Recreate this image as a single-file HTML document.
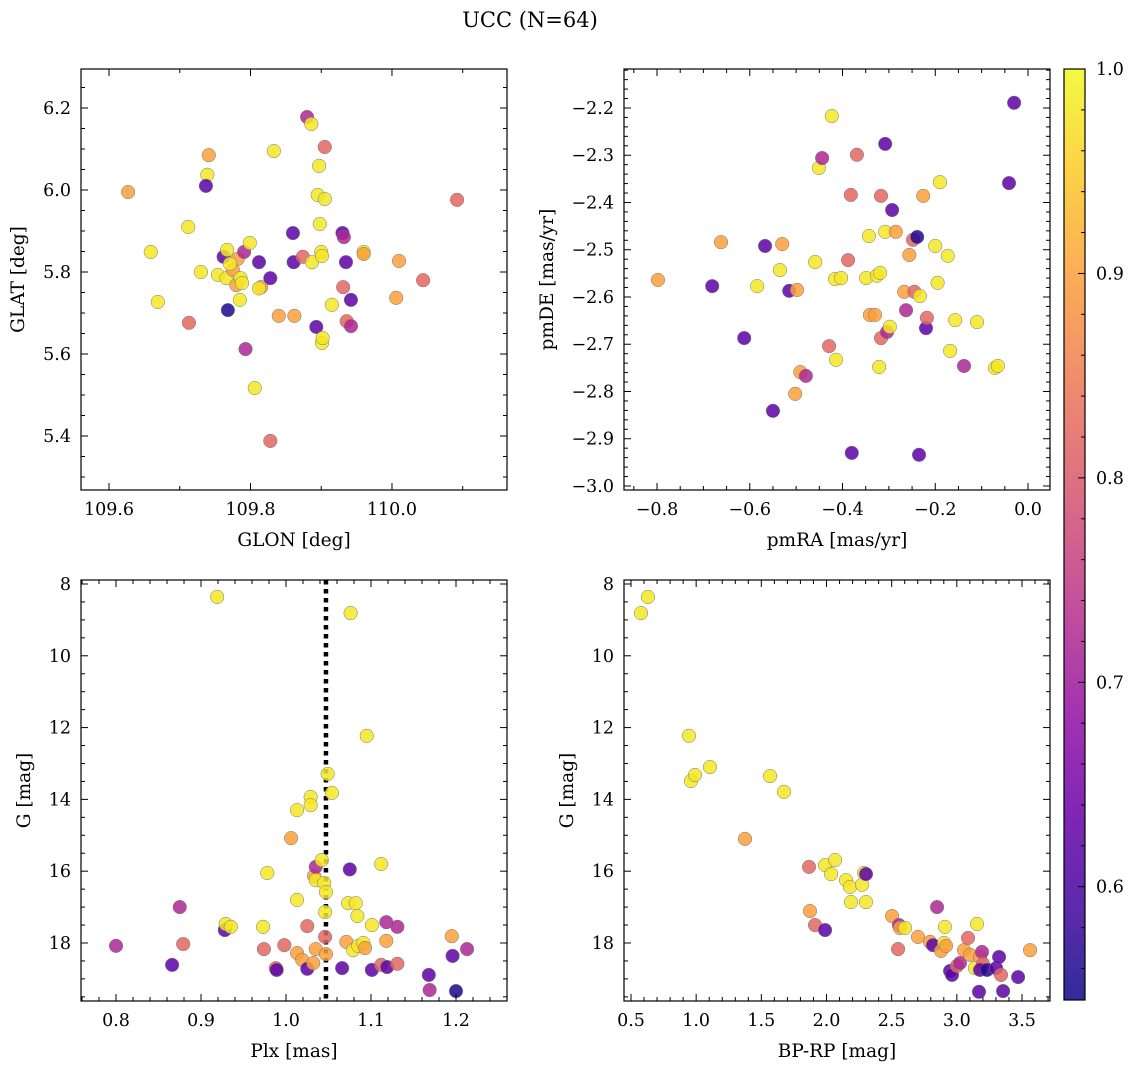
<!DOCTYPE html>
<html><head><meta charset="utf-8"><style>
body{margin:0;background:#fff;}
svg{display:block;font-family:"DejaVu Serif","Liberation Serif",serif;}
</style></head><body>
<svg id="fig" width="1136" height="1068" viewBox="0 0 1136 1068">
<defs><linearGradient id="plasma" x1="0" y1="1" x2="0" y2="0">
<stop offset="0" stop-color="#0d0887"/><stop offset="0.1" stop-color="#41049d"/><stop offset="0.2" stop-color="#6a00a8"/><stop offset="0.3" stop-color="#8f0da4"/><stop offset="0.4" stop-color="#b12a90"/><stop offset="0.5" stop-color="#cc4778"/><stop offset="0.6" stop-color="#e16462"/><stop offset="0.7" stop-color="#f2844b"/><stop offset="0.8" stop-color="#fca636"/><stop offset="0.9" stop-color="#fcce25"/><stop offset="1" stop-color="#f0f921"/>
</linearGradient></defs>
<text x="530" y="27" text-anchor="middle" font-size="21">UCC (N=64)</text>
</svg>
<script>
// Panel 1: GLON vs GLAT
const p1_glon=[109.627,109.659,109.669,109.712,109.713,109.730,109.741,109.739,109.737,109.754,109.762,109.767,109.768,109.766,109.775,109.780,109.782,109.785,109.786,109.788,109.791,109.799,109.793,109.806,109.812,109.815,109.828,109.828,109.833,109.840,109.860,109.861,109.862,109.874,109.880,109.886,109.887,109.893,109.897,109.895,109.898,109.900,109.901,109.901,109.902,109.905,109.905,109.915,109.930,109.932,109.931,109.935,109.936,109.942,109.942,109.960,109.960,110.010,110.006,110.044,110.092,109.771,109.812];
const p1_glat=[5.995,5.849,5.727,5.910,5.676,5.800,6.085,6.037,6.010,5.793,5.837,5.854,5.707,5.785,5.805,5.768,5.832,5.732,5.785,5.773,5.849,5.871,5.612,5.517,5.824,5.763,5.785,5.388,6.095,5.693,5.895,5.824,5.693,5.837,6.178,6.161,5.824,5.666,6.059,5.988,5.917,5.849,5.839,5.627,5.639,6.105,5.978,5.720,5.895,5.885,5.763,5.824,5.680,5.732,5.668,5.849,5.844,5.827,5.737,5.780,5.976,5.820,5.760];
const p1_prob=[0.9,0.98,0.98,0.98,0.82,0.98,0.9,0.98,0.62,0.98,0.62,0.98,0.56,0.98,0.9,0.9,0.9,0.98,0.98,0.98,0.72,0.98,0.72,0.98,0.62,0.9,0.62,0.82,0.98,0.9,0.62,0.62,0.9,0.82,0.72,0.98,0.98,0.62,0.98,0.98,0.98,0.98,0.98,0.98,0.98,0.82,0.98,0.98,0.62,0.72,0.82,0.62,0.82,0.62,0.72,0.98,0.9,0.9,0.9,0.82,0.82,0.98,0.98];
// Panel 2: pmRA vs pmDE
const p2_pmra=[-0.798,-0.681,-0.662,-0.612,-0.584,-0.567,-0.550,-0.535,-0.530,-0.515,-0.502,-0.498,-0.491,-0.479,-0.459,-0.451,-0.444,-0.429,-0.423,-0.416,-0.414,-0.403,-0.388,-0.382,-0.380,-0.369,-0.349,-0.343,-0.341,-0.330,-0.326,-0.321,-0.319,-0.317,-0.317,-0.308,-0.308,-0.304,-0.298,-0.293,-0.285,-0.267,-0.263,-0.256,-0.248,-0.245,-0.239,-0.233,-0.235,-0.226,-0.220,-0.218,-0.200,-0.195,-0.190,-0.173,-0.168,-0.157,-0.138,-0.110,-0.071,-0.065,-0.041,-0.030];
const p2_pmde=[-2.564,-2.577,-2.484,-2.687,-2.577,-2.492,-2.841,-2.543,-2.488,-2.587,-2.805,-2.585,-2.759,-2.767,-2.526,-2.327,-2.306,-2.704,-2.217,-2.562,-2.733,-2.560,-2.522,-2.384,-2.930,-2.299,-2.560,-2.471,-2.638,-2.638,-2.555,-2.748,-2.549,-2.386,-2.687,-2.462,-2.276,-2.674,-2.663,-2.416,-2.462,-2.589,-2.628,-2.511,-2.479,-2.589,-2.473,-2.598,-2.934,-2.386,-2.666,-2.644,-2.492,-2.570,-2.357,-2.513,-2.714,-2.649,-2.746,-2.653,-2.750,-2.746,-2.359,-2.189];
const p2_prob=[0.9,0.62,0.9,0.62,0.98,0.62,0.62,0.98,0.9,0.62,0.9,0.9,0.9,0.72,0.98,0.98,0.72,0.82,0.98,0.98,0.98,0.98,0.82,0.82,0.62,0.82,0.98,0.98,0.9,0.9,0.98,0.98,0.98,0.82,0.82,0.98,0.62,0.72,0.98,0.62,0.9,0.9,0.72,0.9,0.82,0.82,0.56,0.98,0.62,0.9,0.62,0.82,0.98,0.98,0.98,0.98,0.98,0.98,0.72,0.98,0.98,0.98,0.62,0.62];
// Panel 3: Plx vs G
const p3_plx=[0.800,0.866,0.875,0.879,0.919,0.928,0.929,0.935,0.973,0.974,0.978,0.988,0.989,0.998,1.006,1.013,1.013,1.013,1.019,1.025,1.025,1.029,1.029,1.032,1.033,1.035,1.035,1.035,1.042,1.045,1.046,1.046,1.047,1.047,1.049,1.054,1.066,1.071,1.073,1.076,1.075,1.079,1.082,1.084,1.085,1.091,1.093,1.095,1.101,1.101,1.112,1.112,1.118,1.118,1.119,1.131,1.131,1.168,1.169,1.195,1.196,1.200,1.213];
const p3_g=[18.08,18.61,17.00,18.03,8.36,17.64,17.47,17.55,17.55,18.17,16.05,18.70,18.75,18.06,15.08,14.30,18.28,16.80,18.47,18.72,17.53,13.93,14.16,18.56,16.13,15.88,16.25,18.17,15.69,16.33,17.83,17.14,18.31,16.58,13.29,13.82,18.70,17.97,16.89,8.81,15.95,18.20,16.89,17.25,18.08,18.00,18.14,12.23,17.50,18.75,18.61,15.80,17.94,17.42,18.67,17.55,18.58,18.89,19.31,17.81,18.36,19.34,18.17];
const p3_prob=[0.72,0.62,0.72,0.82,0.98,0.62,0.98,0.98,0.98,0.82,0.98,0.82,0.62,0.82,0.9,0.98,0.9,0.98,0.9,0.62,0.82,0.98,0.98,0.9,0.9,0.72,0.98,0.9,0.98,0.98,0.82,0.98,0.9,0.98,0.98,0.98,0.62,0.9,0.98,0.98,0.62,0.98,0.98,0.98,0.98,0.98,0.9,0.98,0.98,0.62,0.82,0.98,0.9,0.72,0.62,0.72,0.82,0.62,0.72,0.9,0.62,0.56,0.72];
// Panel 4: BP-RP vs G
const p4_bprp=[0.577,0.630,0.945,0.960,0.991,1.106,1.375,1.567,1.674,1.866,1.873,1.912,1.989,1.989,2.035,2.066,2.150,2.180,2.188,2.273,2.288,2.303,2.303,2.503,2.556,2.549,2.564,2.603,2.702,2.794,2.817,2.848,2.879,2.902,2.909,2.917,2.948,2.963,3.001,3.024,3.055,3.086,3.101,3.139,3.155,3.170,3.178,3.193,3.201,3.178,3.232,3.301,3.324,3.339,3.355,3.470,3.562];
const p4_g=[8.81,8.36,12.23,13.49,13.32,13.10,15.10,13.35,13.79,15.88,17.11,17.50,17.64,15.83,16.08,15.69,16.25,16.44,16.86,16.38,16.05,16.08,16.86,17.25,17.50,18.17,17.58,17.58,17.83,17.97,18.06,17.00,18.22,18.00,17.55,18.08,18.78,18.89,18.64,18.56,18.20,17.86,18.33,18.70,17.47,19.36,18.39,18.25,18.58,18.75,18.75,18.70,18.39,18.89,19.34,18.95,18.20];
const p4_prob=[0.98,0.98,0.98,0.98,0.98,0.98,0.9,0.98,0.98,0.82,0.9,0.82,0.62,0.98,0.98,0.98,0.98,0.98,0.98,0.98,0.98,0.62,0.98,0.9,0.72,0.82,0.9,0.98,0.9,0.9,0.62,0.72,0.9,0.98,0.98,0.9,0.62,0.62,0.82,0.72,0.9,0.82,0.9,0.98,0.98,0.62,0.9,0.72,0.82,0.62,0.56,0.62,0.62,0.82,0.62,0.62,0.9];
const cbTicks=[0.6,0.7,0.8,0.9,1.0];

const NS="http://www.w3.org/2000/svg";
const svg=document.getElementById('fig');
const VMIN=0.5446,VMAX=1.0;
const stops=["#0d0887","#41049d","#6a00a8","#8f0da4","#b12a90","#cc4778","#e16462","#f2844b","#fca636","#fcce25","#f0f921"];
function hex(h){return [1,3,5].map(i=>parseInt(h.substr(i,2),16));}
function plasma(v){let t=Math.max(0,Math.min(1,(v-VMIN)/(VMAX-VMIN)))*10;let i=Math.min(9,Math.floor(t)),f=t-i;const a=hex(stops[i]),b=hex(stops[i+1]);return 'rgb('+a.map((c,k)=>Math.round(c+(b[k]-c)*f)).join(',')+')';}
function mk(tag,attrs,parent){const e=document.createElementNS(NS,tag);for(const k in attrs)e.setAttribute(k,attrs[k]);(parent||svg).appendChild(e);return e;}
function fmt(v,d){let s=v.toFixed(d);if(s.startsWith('-'))s='\u2212'+s.slice(1);if(s==='\u22120.0')s='0.0';return s;}
const TF=17.5, LF=18.5;
function panel(o){
  const g=mk('g',{});
  
  
  const sx=v=>o.x0+(v-o.xmin)/(o.xmax-o.xmin)*(o.x1-o.x0);
  const sy=o.yinv?(v=>o.y0+(v-o.ymin)/(o.ymax-o.ymin)*(o.y1-o.y0)):(v=>o.y1-(v-o.ymin)/(o.ymax-o.ymin)*(o.y1-o.y0));
  if(o.vline!==undefined){const l=mk('line',{x1:sx(o.vline),x2:sx(o.vline),y1:o.y0,y2:o.y1,stroke:'#000','stroke-width':4.5,'stroke-dasharray':'4.5 4.5'},g);
    
    }
  for(let i=0;i<o.xs.length;i++){
    const c=mk('circle',{cx:sx(o.xs[i]),cy:sy(o.ys[i]),r:6.8,fill:plasma(o.cs[i]),'fill-opacity':0.85,stroke:'#777','stroke-width':0.5},g);
    
    
  }
  const fr=mk('rect',{x:o.x0,y:o.y0,width:o.x1-o.x0,height:o.y1-o.y0,fill:'none',stroke:'#000','stroke-width':1.2},g);
  
  
  const eps=1e-9;
  for(let v=Math.ceil(o.xmin/o.xminor-eps)*o.xminor;v<=o.xmax+eps;v+=o.xminor){const p=sx(v);
    const isMaj=Math.abs(v/o.xmajor-Math.round(v/o.xmajor))<1e-6;const L=isMaj?7:4;
    mk('line',{x1:p,x2:p,y1:o.y1,y2:o.y1-L,stroke:'#000','stroke-width':1},g);
    mk('line',{x1:p,x2:p,y1:o.y0,y2:o.y0+L,stroke:'#000','stroke-width':1},g);
    if(isMaj){const t=mk('text',{x:p,y:o.y1+25,'text-anchor':'middle','font-size':TF},g);t.textContent=fmt(v,o.xd);
      
      }
  }
  for(let v=Math.ceil(o.ymin/o.yminor-eps)*o.yminor;v<=o.ymax+eps;v+=o.yminor){const p=sy(v);
    const isMaj=Math.abs(v/o.ymajor-Math.round(v/o.ymajor))<1e-6;const L=isMaj?7:4;
    mk('line',{x1:o.x0,x2:o.x0+L,y1:p,y2:p,stroke:'#000','stroke-width':1},g);
    mk('line',{x1:o.x1,x2:o.x1-L,y1:p,y2:p,stroke:'#000','stroke-width':1},g);
    if(isMaj){const t=mk('text',{x:o.x0-10,y:p+6,'text-anchor':'end','font-size':TF},g);t.textContent=fmt(v,o.yd);
      
      }
  }
  const xl=mk('text',{x:(o.x0+o.x1)/2,y:o.y1+56,'text-anchor':'middle','font-size':LF},g);xl.textContent=o.xlabel;
  
  
  const yl=mk('text',{x:0,y:0,'text-anchor':'middle','font-size':LF,transform:`translate(${o.ylx},${(o.y0+o.y1)/2}) rotate(-90)`},g);yl.textContent=o.ylabel;
  
  
}
panel({name:'glon-glat-panel',x0:81,x1:507,y0:69,y1:490,xmin:109.5604,xmax:110.1626,ymin:5.2683,ymax:6.2951,xmajor:0.2,xminor:0.1,ymajor:0.2,yminor:0.05,xd:1,yd:1,xs:p1_glon,ys:p1_glat,cs:p1_prob,xlabel:'GLON [deg]',ylabel:'GLAT [deg]',ylx:24});
panel({name:'pm-panel',x0:624,x1:1050,y0:69,y1:490,xmin:-0.8712,xmax:0.0474,ymin:-3.0085,ymax:-2.1175,xmajor:0.2,xminor:0.05,ymajor:0.1,yminor:0.02,xd:1,yd:1,xs:p2_pmra,ys:p2_pmde,cs:p2_prob,xlabel:'pmRA [mas/yr]',ylabel:'pmDE [mas/yr]',ylx:553});
panel({name:'plx-g-panel',x0:81,x1:507,y0:580,y1:1001,xmin:0.7588,xmax:1.26,ymin:7.889,ymax:19.616,yinv:true,xmajor:0.1,xminor:0.02,ymajor:2,yminor:0.5,xd:1,yd:0,xs:p3_plx,ys:p3_g,cs:p3_prob,xlabel:'Plx [mas]',ylabel:'G [mag]',ylx:30,vline:1.047});
panel({name:'cmd-panel',x0:624,x1:1050,y0:580,y1:1001,xmin:0.4463,xmax:3.7148,ymin:7.889,ymax:19.616,yinv:true,xmajor:0.5,xminor:0.1,ymajor:2,yminor:0.5,xd:1,yd:0,xs:p4_bprp,ys:p4_g,cs:p4_prob,xlabel:'BP-RP [mag]',ylabel:'G [mag]',ylx:573});
const cb=mk('g',{});


mk('rect',{x:1064,y:69,width:21,height:931,fill:'url(#plasma)','fill-opacity':0.85},cb);
mk('rect',{x:1064,y:69,width:21,height:931,fill:'none',stroke:'#000','stroke-width':1.2},cb);
const cy=v=>1000-(v-VMIN)/(VMAX-VMIN)*931;
for(let v=0.55;v<=1.0001;v+=0.01){const p=cy(v);const maj=Math.abs(v*10-Math.round(v*10))<1e-6;
  if(Math.abs(v*100-Math.round(v*100/2)*2)<1e-6||maj){mk('line',{x1:1085,x2:1085-(maj?7:4),y1:p,y2:p,stroke:'#000','stroke-width':1},cb);}}
cbTicks.forEach(v=>{const t=mk('text',{x:1096,y:cy(v)+6,'font-size':TF},cb);t.textContent=v.toFixed(1);
  
  });
</script>
</body></html>
